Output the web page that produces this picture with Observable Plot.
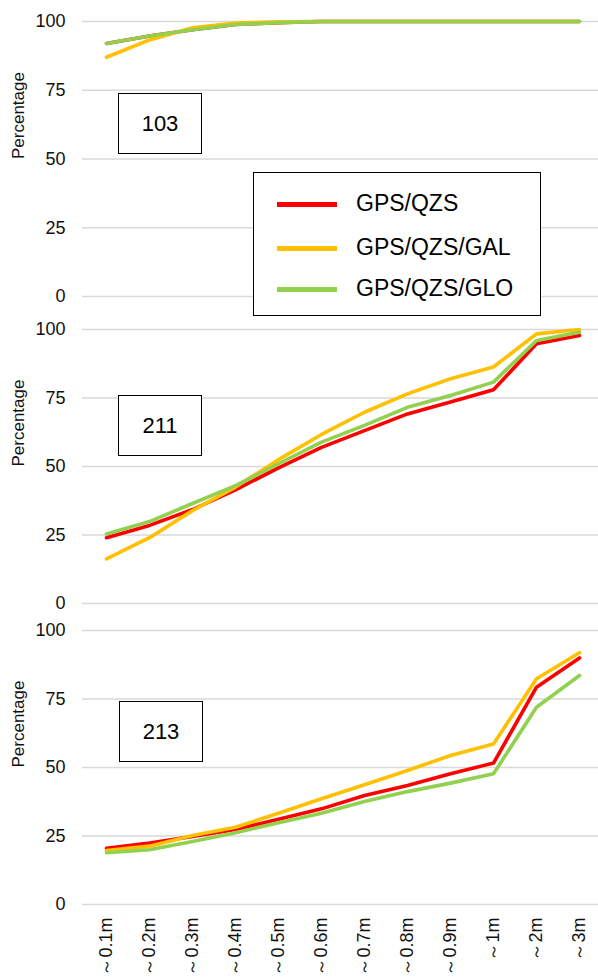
<!DOCTYPE html>
<html>
<head>
<meta charset="utf-8">
<script src="https://cdn.jsdelivr.net/npm/d3@7"></script>
<script src="https://cdn.jsdelivr.net/npm/@observablehq/plot@0.6"></script>
<style>
  body { margin: 0; background: #fff; }
  #wrap { position: relative; width: 598px; height: 978px; font-family: "Liberation Sans", Arial, sans-serif; overflow: hidden; }
  .panel { position: absolute; left: 0; }
  .tag { position: absolute; border: 1px solid #000; background: #fff; font-size: 22px; color: #000;
         display: flex; align-items: center; justify-content: center; box-sizing: border-box; }
  #legend { position: absolute; left: 253px; top: 172px; width: 288px; height: 144px; border: 1px solid #000;
            background: #fff; box-sizing: border-box; z-index: 5; }
  .lg-sw { position: absolute; left: 23px; width: 60px; height: 5px; }
  .lg-tx { position: absolute; left: 102px; font-size: 23px; color: #000; line-height: 1; }
</style>
</head>
<body>
<div id="wrap"></div>
<script>
// ---- data ----
const categories = ["～0.1m", "～0.2m", "～0.3m", "～0.4m", "～0.5m", "～0.6m", "～0.7m", "～0.8m", "～0.9m", "～1m", "～2m", "～3m"];
const seriesNames = ["GPS/QZS", "GPS/QZS/GAL", "GPS/QZS/GLO"];
const seriesColors = ["#FF0000", "#FFC000", "#92D050"];
const yTicks = [0, 25, 50, 75, 100];
const panelLabels = ["103", "211", "213"];

const p103_gps = [92, 94.7, 97, 98.9, 99.6, 100, 100, 100, 100, 100, 100, 100];
const p103_gal = [87, 93.3, 97.7, 99.4, 99.9, 100, 100, 100, 100, 100, 100, 100];
const p103_glo = [92, 94.7, 97, 98.9, 99.6, 100, 100, 100, 100, 100, 100, 100];

const p211_gps = [24, 28.5, 34.3, 41.5, 49.5, 57, 63.1, 69.2, 73.5, 78, 94.8, 97.8];
const p211_gal = [16.3, 24, 33.9, 42.5, 52.5, 61.7, 69.8, 76.5, 82, 86.3, 98.4, 100];
const p211_glo = [25.4, 29.9, 36.5, 43, 51, 58.9, 65, 71.6, 75.9, 80.8, 96, 99];

const p213_gps = [20.5, 22.4, 24.8, 27.4, 31.1, 34.9, 39.8, 43.4, 47.7, 51.6, 79.3, 90];
const p213_gal = [19.7, 21.3, 25.2, 28.2, 33.3, 38.6, 43.7, 48.9, 54.4, 58.6, 82.4, 91.9];
const p213_glo = [18.9, 20, 23, 26.2, 29.8, 33.3, 37.6, 41.2, 44.3, 47.7, 72, 83.6];

const panels = [
  { label: panelLabels[0], series: [p103_gps, p103_gal, p103_glo], top: 0, height: 300, mb: 4, xAxis: false, tagTop: 93, tagLeft: 118 },
  { label: panelLabels[1], series: [p211_gps, p211_gal, p211_glo], top: 308, height: 299, mb: 4, xAxis: false, tagTop: 395, tagLeft: 118 },
  { label: panelLabels[2], series: [p213_gps, p213_gal, p213_glo], top: 609, height: 369, mb: 74, xAxis: true, tagTop: 701, tagLeft: 119 }
];

const wrap = document.getElementById("wrap");

panels.forEach(p => {
  const marks = [
    Plot.gridY(yTicks, { stroke: "#d9d9d9", strokeOpacity: 1, strokeWidth: 1.3 }),
    Plot.axisY({ ticks: yTicks, tickSize: 0, tickPadding: 17, label: null, fontSize: 18, fill: "#111" }),
    Plot.text(["Percentage"], { frameAnchor: "left", dx: -64, rotate: -90, fontSize: 17, fill: "#111" })
  ];
  p.series.forEach((vals, si) => {
    const data = categories.map((c, i) => ({ cat: c, v: vals[i] }));
    marks.push(Plot.line(data, { x: "cat", y: "v", stroke: seriesColors[si], strokeWidth: 3.6, strokeLinejoin: "round" }));
  });
  if (p.xAxis) {
    marks.push(Plot.axisX({ tickRotate: -90, tickSize: 0, tickPadding: 13, label: null, fontSize: 18, fill: "#111" }));
  }
  const chart = Plot.plot({
    width: 598,
    height: p.height,
    marginLeft: 82,
    marginRight: 0,
    marginTop: 21,
    marginBottom: p.mb,
    style: { fontFamily: "Liberation Sans, Arial, sans-serif", fontSize: "18px", background: "transparent", overflow: "visible" },
    x: { type: "point", domain: categories, range: [104, 580], padding: 0, axis: p.xAxis ? undefined : null },
    y: { domain: [0, 100] },
    marks
  });
  const div = document.createElement("div");
  div.className = "panel";
  div.style.top = p.top + "px";
  div.appendChild(chart);
  wrap.appendChild(div);

  const tag = document.createElement("div");
  tag.className = "tag";
  tag.style.left = p.tagLeft + "px";
  tag.style.top = p.tagTop + "px";
  tag.style.width = "84px";
  tag.style.height = "61px";
  tag.textContent = p.label;
  wrap.appendChild(tag);
});

// legend
const legend = document.createElement("div");
legend.id = "legend";
const rowY = [31, 75, 116];
seriesNames.forEach((name, i) => {
  const sw = document.createElement("div");
  sw.className = "lg-sw";
  sw.style.top = (rowY[i] - 2.5) + "px";
  sw.style.background = seriesColors[i];
  legend.appendChild(sw);
  const tx = document.createElement("div");
  tx.className = "lg-tx";
  tx.style.top = (rowY[i] - 12) + "px";
  tx.textContent = name;
  legend.appendChild(tx);
});
wrap.appendChild(legend);
</script>
</body>
</html>
